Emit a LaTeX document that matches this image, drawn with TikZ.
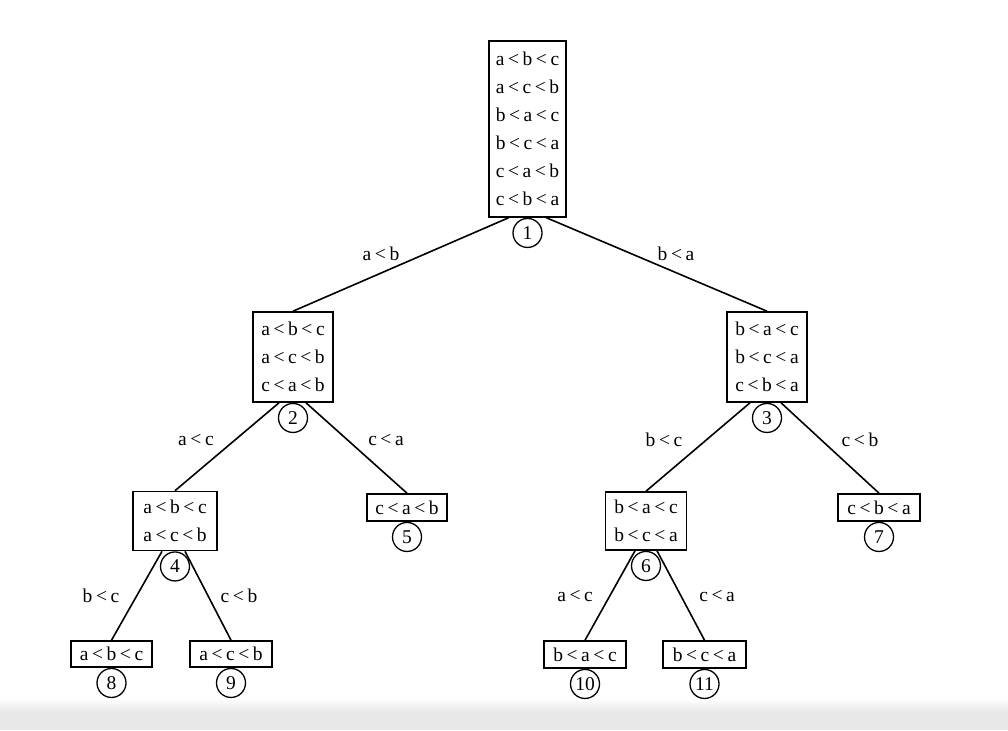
\documentclass[tikz,border=0pt]{standalone}
\usepackage{fontspec}
\setmainfont{Liberation Serif}
\usetikzlibrary{positioning,calc}
\newcommand\permfont{\fontsize{19.5}{28}\selectfont\spaceskip 3.6pt\relax}
\tikzset{perm/.style={draw,line width=1.6pt,align=center,inner sep=0pt,minimum width=80pt,font=\permfont},
  num/.style={draw,circle,fill=white,line width=1.3pt,minimum size=29pt,inner sep=0pt,font=\fontsize{19.5}{20}\selectfont},
  cmp/.style={font=\permfont},
  edge/.style={line width=1.6pt}}

\begin{document}
\begin{tikzpicture}[x=1pt,y=-1pt]
\fill[white] (0,0) rectangle (1008,730);
\shade[top color=white,bottom color=black!9] (0,698) rectangle (1008,712);
\fill[black!9] (0,712) rectangle (1008,730);
% permutation boxes
\node[perm,minimum width=77pt,minimum height=176pt] (b1) at (527.5,129) {a < b < c\\a < c < b\\b < a < c\\b < c < a\\c < a < b\\c < b < a};
\node[perm,minimum height=90pt] (b2) at (293,357) {a < b < c\\a < c < b\\c < a < b};
\node[perm,minimum height=90pt] (b3) at (767,357) {b < a < c\\b < c < a\\c < b < a};
\node[perm,minimum width=84pt,minimum height=59pt] (b4) at (175,521) {a < b < c\\a < c < b};
\node[perm,minimum height=27pt] (b5) at (407,507.5) {c < a < b};
\node[perm,minimum width=81pt,minimum height=58pt] (b6) at (646,521) {b < a < c\\b < c < a};
\node[perm,minimum width=82pt,minimum height=27pt] (b7) at (879,507.5) {c < b < a};
\node[perm,minimum width=81pt,minimum height=26pt] (b8) at (111.5,654) {a < b < c};
\node[perm,minimum width=82pt,minimum height=26pt] (b9) at (231,654) {a < c < b};
\node[perm,minimum width=82pt,minimum height=27pt] (b10) at (585,654.5) {b < a < c};
\node[perm,minimum width=83pt,minimum height=27pt] (b11) at (704.5,654.5) {b < c < a};
% edges
\draw[edge] ($(b1.south)+(-19,0)$) -- (b2.north);
\draw[edge] ($(b1.south)+(19,0)$) -- (b3.north);
\draw[edge] ($(b2.south)+(-14,0)$) -- (b4.north);
\draw[edge] ($(b2.south)+(13,0)$) -- (b5.north);
\draw[edge] ($(b3.south)+(-17,0)$) -- (b6.north);
\draw[edge] ($(b3.south)+(14,0)$) -- (b7.north);
\draw[edge] ($(b4.south)+(-13,0)$) -- (b8.north);
\draw[edge] ($(b4.south)+(10,0)$) -- (b9.north);
\draw[edge] ($(b6.south)+(-11,0)$) -- (b10.north);
\draw[edge] ($(b6.south)+(11,0)$) -- (b11.north);
% node numbers
\node[num,below=0pt of b1] (c1) {1};
\node[num,below=0pt of b2] (c2) {2};
\node[num,below=0pt of b3] (c3) {3};
\node[num,below=0pt of b4] (c4) {4};
\node[num,below=0pt of b5] (c5) {5};
\node[num,below=0pt of b6] (c6) {6};
\node[num,below=0pt of b7] (c7) {7};
\node[num,below=0pt of b8] (c8) {8};
\node[num,below=0pt of b9] (c9) {9};
\node[num,below=0pt of b10] (c10) {10};
\node[num,below=0pt of b11] (c11) {11};
% comparison labels
\node[cmp] (l1) at (381,254) {a < b};
\node[cmp] (l2) at (676,254) {b < a};
\node[cmp] (l3) at (196,440) {a < c};
\node[cmp] (l4) at (386,440) {c < a};
\node[cmp] (l5) at (664,440) {b < c};
\node[cmp] (l6) at (860,440) {c < b};
\node[cmp] (l7) at (101,596) {b < c};
\node[cmp] (l8) at (239,596) {c < b};
\node[cmp] (l9) at (575,596) {a < c};
\node[cmp] (l10) at (717,596) {c < a};
\end{tikzpicture}
\end{document}
